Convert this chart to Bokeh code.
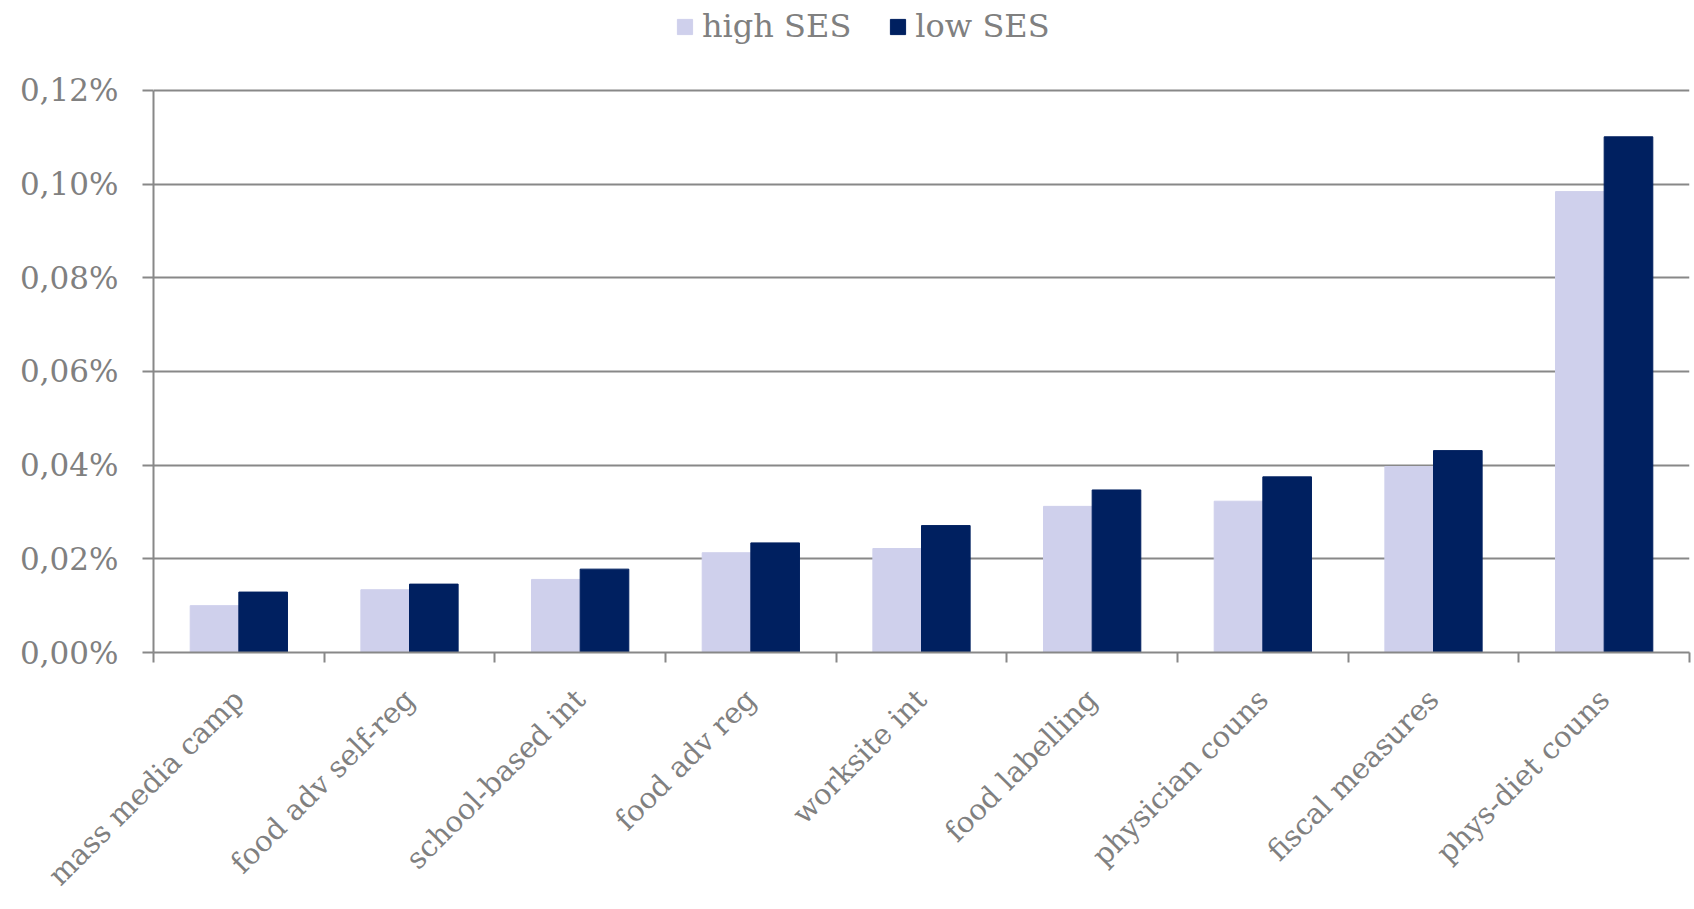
import math
from bokeh.plotting import figure
from bokeh.models import (FactorRange, Range1d, LinearAxis, CategoricalAxis, FixedTicker,
                          CustomJSTickFormatter, ColumnDataSource, Legend, LegendItem)
from bokeh.transform import dodge
from bokeh.embed import file_html
from bokeh.resources import INLINE

categories = ["mass media camp", "food adv self-reg", "school-based int", "food adv reg",
              "worksite int", "food labelling", "physician couns", "fiscal measures",
              "phys-diet couns"]
high_ses = [0.0100, 0.0134, 0.0156, 0.0213, 0.0222, 0.0312, 0.0323, 0.0397, 0.0984]
low_ses = [0.0129, 0.0146, 0.0178, 0.0234, 0.0271, 0.0347, 0.0375, 0.0431, 0.1101]
y_ticks = [0.0, 0.02, 0.04, 0.06, 0.08, 0.10, 0.12]
series_names = ["high SES", "low SES"]

HIGH_COL = "#CFD0EC"
LOW_COL = "#002060"
GRAY = "#888888"
TEXT = "#808080"
FONT = "DejaVu Serif"

src = ColumnDataSource(dict(cat=categories, high=high_ses, low=low_ses))

# the frame reaches the top of the page so that the legend can sit above the 0,12% line
p = figure(width=1694, height=909, x_range=FactorRange(factors=categories, range_padding=0),
           y_range=Range1d(0, 0.1392), output_backend="svg", toolbar_location=None,
           x_axis_location=None, min_border_left=153, min_border_right=5,
           min_border_top=0, min_border_bottom=257)
p.outline_line_color = None
p.background_fill_color = "white"
p.xgrid.visible = False

bw = 0.285
r_high = p.vbar(x=dodge("cat", -bw / 2, range=p.x_range), top="high", width=bw, source=src,
                fill_color=HIGH_COL, line_color=HIGH_COL)
r_low = p.vbar(x=dodge("cat", bw / 2, range=p.x_range), top="low", width=bw, source=src,
               fill_color=LOW_COL, line_color=LOW_COL)

# y axis
ya = p.yaxis[0]
ya.ticker = FixedTicker(ticks=y_ticks)
ya.bounds = (y_ticks[0], y_ticks[-1])
ya.formatter = CustomJSTickFormatter(code="return tick.toFixed(2).replace('.', ',') + '%';")
ya.axis_line_color = GRAY
ya.axis_line_width = 2
ya.major_tick_line_color = GRAY
ya.major_tick_line_width = 2
ya.major_tick_out = 11
ya.major_tick_in = 0
ya.minor_tick_line_color = None
ya.major_label_standoff = 24
ya.major_label_text_font = FONT
ya.major_label_text_font_size = "31px"
ya.major_label_text_color = TEXT

p.ygrid.ticker = FixedTicker(ticks=y_ticks)
p.ygrid.grid_line_color = GRAY
p.ygrid.grid_line_width = 2

# x axis line with ticks at category boundaries (synthetic coordinates 0..n)
edge_axis = LinearAxis(ticker=FixedTicker(ticks=list(range(len(categories) + 1))),
                       major_label_text_font_size="0px", major_label_text_color=None,
                       major_label_standoff=0,
                       major_tick_out=10, major_tick_in=0, major_tick_line_color=GRAY,
                       major_tick_line_width=2, axis_line_color=GRAY, axis_line_width=2,
                       minor_tick_line_color=None)
p.add_layout(edge_axis, "below")

cat_axis = CategoricalAxis(major_label_orientation=math.pi / 4, axis_line_color=None,
                           major_tick_line_color=None, major_tick_out=0, major_tick_in=0,
                           major_label_standoff=32, major_label_text_font=FONT,
                           major_label_text_font_size="29px", major_label_text_color=TEXT)
p.add_layout(cat_axis, "below")

legend = Legend(items=[LegendItem(label=series_names[0], renderers=[r_high]),
                       LegendItem(label=series_names[1], renderers=[r_low])],
                orientation="horizontal", location=(522, 607), glyph_width=19, glyph_height=19,
                label_text_font=FONT, label_text_font_size="32px", label_text_color=TEXT,
                label_standoff=8, spacing=37, padding=0, margin=0,
                border_line_color=None, background_fill_alpha=0)
p.add_layout(legend, "center")

open("out.html", "w").write(file_html(p, INLINE))
